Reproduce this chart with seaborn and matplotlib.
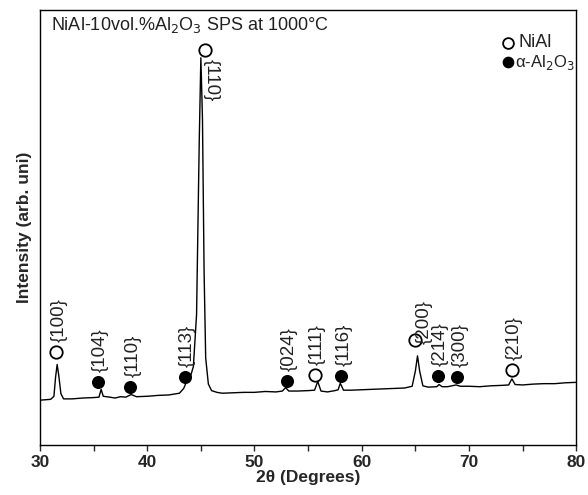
import matplotlib
matplotlib.use("Agg")
import matplotlib.pyplot as plt
import seaborn as sns
import pandas as pd

# XRD pattern (2theta, intensity in arbitrary units)
two_theta = [30.0, 30.5, 31.0, 31.3, 31.45, 31.6, 31.75, 31.95, 32.2, 33.0, 34.0, 35.0,
             35.5, 35.7, 35.9, 36.5, 37.0, 37.5, 38.0, 38.5, 39.0, 40.0, 41.0, 42.0,
             43.0, 43.4, 43.7, 44.0, 44.3, 44.6, 44.85, 45.0, 45.15, 45.3, 45.45, 45.7,
             46.0, 46.5, 47.0, 48.0, 49.0, 50.0, 51.0, 52.0, 52.6, 52.9, 53.2, 54.0,
             55.0, 55.6, 55.9, 56.2, 56.8, 57.5, 57.8, 58.0, 58.3, 59.0, 60.0, 61.0,
             62.0, 63.0, 64.0, 64.7, 65.0, 65.2, 65.4, 65.7, 66.2, 67.0, 67.2, 67.5,
             68.0, 68.8, 69.2, 70.0, 71.0, 72.0, 73.0, 73.7, 74.0, 74.3, 75.0, 76.0,
             77.0, 78.0, 79.0, 80.0]
intensity = [10.3, 10.4, 10.5, 11.2, 15.5, 18.5, 16.0, 11.8, 10.6, 10.6, 10.8, 10.9,
             11.0, 12.8, 11.2, 11.0, 10.8, 11.1, 11.0, 11.6, 11.1, 11.2, 11.4, 11.5,
             11.9, 13.0, 14.8, 15.5, 18.0, 30.0, 70.0, 89.0, 75.0, 40.0, 20.0, 14.0,
             12.5, 12.1, 11.9, 12.0, 12.1, 12.1, 12.3, 12.2, 12.4, 13.2, 12.4, 12.4,
             12.5, 12.6, 14.6, 12.4, 12.2, 12.5, 12.7, 14.2, 12.6, 12.6, 12.7, 12.8,
             12.9, 13.0, 13.1, 13.5, 17.0, 20.5, 17.0, 13.6, 13.3, 13.4, 13.9, 13.4,
             13.4, 13.8, 13.5, 13.5, 13.4, 13.6, 13.7, 13.8, 15.2, 13.9, 13.8, 14.0,
             14.1, 14.1, 14.3, 14.4]

# peak markers and their Miller indices
peak_x = [31.5, 45.4, 55.6, 65.0, 74.0, 35.4, 38.4, 43.5, 53.0, 58.1, 67.1, 68.9]
peak_y = [21.4, 90.8, 16.1, 24.1, 17.2, 14.5, 13.3, 15.6, 14.7, 15.9, 15.9, 15.6]
phase = ["NiAl"] * 5 + ["Al2O3"] * 7
hkl = ["{100}", "{110}", "{111}", "{200}", "{210}",
       "{104}", "{110}", "{113}", "{024}", "{116}", "{214}", "{300}"]

df = pd.DataFrame({"2theta": two_theta, "I": intensity})
peaks = pd.DataFrame({"x": peak_x, "y": peak_y, "phase": phase, "hkl": hkl})

sns.set_theme(style="ticks")
plt.rcParams["font.family"] = ["Liberation Sans", "DejaVu Sans"]

fig = plt.figure(figsize=(5.88, 4.95), dpi=100)
ax = fig.add_axes([0.068, 0.101, 0.912, 0.879])

sns.lineplot(data=df, x="2theta", y="I", color="black", linewidth=1.0, ax=ax)

nial = peaks[peaks["phase"] == "NiAl"]
alo = peaks[peaks["phase"] == "Al2O3"]
ax.scatter(nial["x"], nial["y"], s=80, facecolor="white", edgecolor="black",
           linewidth=1.3, zorder=3)
ax.scatter(alo["x"], alo["y"], s=70, color="black", zorder=3)

for _, r in peaks.iterrows():
    if r["hkl"] == "{110}" and r["phase"] == "NiAl":
        ax.text(r["x"] + 0.55, r["y"] - 2.0, r["hkl"], rotation=270,
                ha="center", va="top", fontsize=13.5, color="#222222")
    elif r["hkl"] == "{200}":
        ax.text(r["x"] + 0.85, r["y"] - 1.0, r["hkl"], rotation=90,
                ha="center", va="bottom", fontsize=13.5, color="#222222")
    else:
        ax.text(r["x"] + 0.25, r["y"] + 2.3, r["hkl"], rotation=90,
                ha="center", va="bottom", fontsize=13.5, color="#222222")

ax.text(31.0, 96.5, r"NiAl-10vol.%Al$_2$O$_3$ SPS at 1000°C", fontsize=13,
        ha="left", va="center", color="#222222")

# legend drawn as marker + text
ax.scatter([73.6], [92.5], s=60, facecolor="white", edgecolor="black", linewidth=1.3)
ax.text(74.6, 92.5, "NiAl", fontsize=13, va="center", color="#222222")
ax.scatter([73.6], [88.0], s=55, color="black")
ax.text(74.3, 88.0, r"α-Al$_2$O$_3$", fontsize=12, va="center", color="#222222")

ax.set_xlim(30, 80)
ax.set_ylim(0, 100)
ax.set_xticks([30, 40, 50, 60, 70, 80])
ax.set_xticks([35, 45, 55, 65, 75], minor=True)
ax.set_yticks([])
ax.tick_params(axis="x", which="both", direction="out", length=4, width=1,
               labelsize=12.5)
for lbl in ax.get_xticklabels():
    lbl.set_fontweight("bold")
for s in ax.spines.values():
    s.set_visible(True)
    s.set_linewidth(1.0)
    s.set_color("black")

ax.set_xlabel("2θ (Degrees)", fontsize=12.5, fontweight="bold", labelpad=0)
ax.set_ylabel("Intensity (arb. uni)", fontsize=12.5, fontweight="bold", labelpad=6)

fig.savefig("out.png", dpi=100)
